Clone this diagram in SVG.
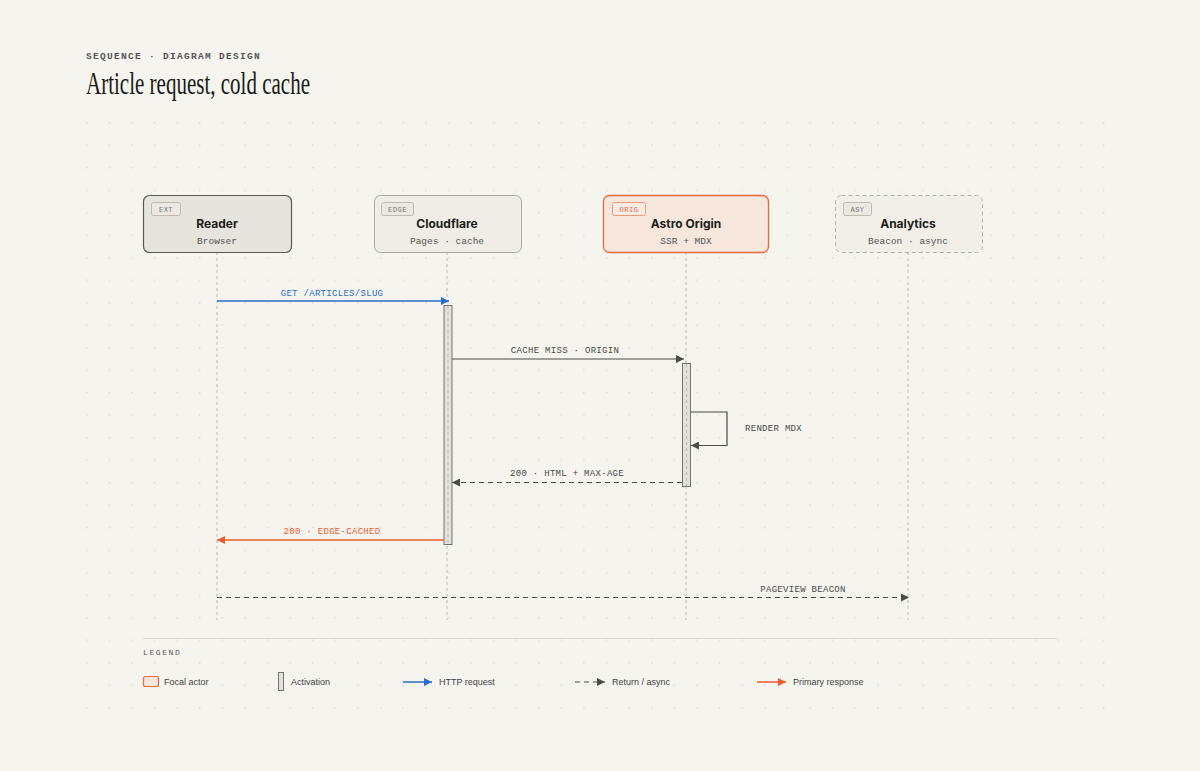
<svg xmlns="http://www.w3.org/2000/svg" width="1200" height="771" viewBox="0 0 1200 771">
<defs>
<pattern id="dots" x="86" y="122" width="22.6" height="22.5" patternUnits="userSpaceOnUse">
<circle cx="0.8" cy="0.8" r="0.8" fill="#dcd9d0"/>
</pattern>
<marker id="aBlue" viewBox="0 0 10 10" refX="10" refY="5" markerWidth="11" markerHeight="8" markerUnits="userSpaceOnUse" orient="auto"><path d="M0,0 L10,5 L0,10 Z" fill="#2a6fc9"/></marker>
<marker id="aGray" viewBox="0 0 10 10" refX="10" refY="5" markerWidth="11" markerHeight="8" markerUnits="userSpaceOnUse" orient="auto"><path d="M0,0 L10,5 L0,10 Z" fill="#4a4a46"/></marker>
<marker id="aOrange" viewBox="0 0 10 10" refX="10" refY="5" markerWidth="11" markerHeight="8" markerUnits="userSpaceOnUse" orient="auto"><path d="M0,0 L10,5 L0,10 Z" fill="#e85d2c"/></marker>
</defs>
<style>
.mono{font-family:"Liberation Mono","DejaVu Sans Mono",monospace}
.lbl{font-family:"Liberation Mono","DejaVu Sans Mono",monospace;font-size:9px;letter-spacing:0.3px;text-anchor:middle;fill:#4a4a46}
.ttl{font-family:Inter,"Liberation Sans",sans-serif;font-size:12px;font-weight:700;text-anchor:middle;fill:#1c1c1a}
.sub{font-family:"Liberation Mono","DejaVu Sans Mono",monospace;font-size:9.5px;text-anchor:middle;fill:#555}
.badge{fill:#ebe9e2;stroke:#bdbab2;stroke-width:1}
.btx{font-family:"Liberation Mono","DejaVu Sans Mono",monospace;font-size:7px;letter-spacing:0.5px;text-anchor:middle;fill:#777}
.life{stroke:#bdbab2;stroke-width:1;stroke-dasharray:3 3;fill:none}
.act{fill:#e2e0d9;stroke:#77756f;stroke-width:1}
.leg{font-family:"Liberation Sans",Arial,sans-serif;font-size:9px;fill:#444}
</style>
<rect width="1200" height="771" fill="#f5f4ee"/>
<rect x="84" y="120" width="1032" height="600" fill="url(#dots)"/>

<text x="86" y="59" class="mono" font-size="9.5" font-weight="700" letter-spacing="1.3" fill="#555">SEQUENCE · DIAGRAM DESIGN</text>
<text x="86" y="94" font-family="'Liberation Serif',serif" font-size="31" fill="#1a1a18" textLength="224" lengthAdjust="spacingAndGlyphs">Article request, cold cache</text>

<g id="lifelines">
<line class="life" x1="217" y1="252" x2="217" y2="620"/>
<line class="life" x1="447" y1="252" x2="447" y2="620"/>
<line class="life" x1="686" y1="252" x2="686" y2="620"/>
<line class="life" x1="908" y1="252" x2="908" y2="620"/>
</g>

<g id="reader">
<rect x="143.5" y="195.5" width="148" height="57" rx="6" fill="#e6e4dc" stroke="#5a5954" stroke-width="1.2"/>
<rect class="badge" x="151.5" y="202.5" width="29" height="13" rx="2"/>
<text class="btx" x="166" y="211.5">EXT</text>
<text class="ttl" x="217" y="228">Reader</text>
<text class="sub" x="217" y="244">Browser</text>
</g>

<g id="cloudflare">
<rect x="374.5" y="195.5" width="147" height="57" rx="6" fill="#efede6" stroke="#acaaa3" stroke-width="1"/>
<rect class="badge" x="381.5" y="202.5" width="32" height="13" rx="2"/>
<text class="btx" x="397.5" y="211.5">EDGE</text>
<text class="ttl" x="447" y="228">Cloudflare</text>
<text class="sub" x="447" y="244">Pages · cache</text>
</g>

<g id="astro">
<rect x="603.5" y="195.5" width="165" height="57" rx="6" fill="#f6e6dc" stroke="#e86a3c" stroke-width="1.3"/>
<rect x="612.5" y="202.5" width="33" height="13" rx="2" fill="#f8ebe3" stroke="#eb9a78" stroke-width="1"/>
<text class="btx" x="629" y="211.5" style="fill:#e06a3e">ORIG</text>
<text class="ttl" x="686" y="228">Astro Origin</text>
<text class="sub" x="686" y="244">SSR + MDX</text>
</g>

<g id="analytics">
<rect x="835.5" y="195.5" width="147" height="57" rx="6" fill="#f1efe8" stroke="#b5b3ac" stroke-width="1" stroke-dasharray="4 3"/>
<rect class="badge" x="843.5" y="202.5" width="28" height="13" rx="2"/>
<text class="btx" x="857.5" y="211.5">ASY</text>
<text class="ttl" x="908" y="228">Analytics</text>
<text class="sub" x="908" y="244">Beacon · async</text>
</g>

<g id="activations">
<rect class="act" x="444" y="305.5" width="8" height="239"/>
<line class="life" x1="448" y1="306" x2="448" y2="544"/>
<rect class="act" x="682.5" y="363.5" width="8" height="123"/>
<line class="life" x1="686.5" y1="364" x2="686.5" y2="486"/>
</g>

<g id="connectors" fill="none">
<line x1="217" y1="301" x2="449" y2="301" stroke="#2a6fc9" stroke-width="1.5" marker-end="url(#aBlue)"/>
<text class="lbl" x="332" y="296" style="fill:#2a6fc9">GET /ARTICLES/SLUG</text>

<line x1="452" y1="359" x2="684" y2="359" stroke="#4a4a46" stroke-width="1.2" marker-end="url(#aGray)"/>
<text class="lbl" x="565" y="353">CACHE MISS · ORIGIN</text>

<polyline points="690.5,412 727,412 727,445.5 691,445.5" stroke="#4a4a46" stroke-width="1.2" marker-end="url(#aGray)"/>
<text class="lbl" x="745" y="431" style="text-anchor:start">RENDER MDX</text>

<line x1="682" y1="482.5" x2="452" y2="482.5" stroke="#4a4a46" stroke-width="1.2" stroke-dasharray="5 4" marker-end="url(#aGray)"/>
<text class="lbl" x="567" y="476">200 · HTML + MAX-AGE</text>

<line x1="444" y1="540" x2="217" y2="540" stroke="#e85d2c" stroke-width="1.5" marker-end="url(#aOrange)"/>
<text class="lbl" x="332" y="534" style="fill:#e85d2c">200 · EDGE-CACHED</text>

<line x1="217" y1="597.5" x2="909" y2="597.5" stroke="#4a4a46" stroke-width="1.2" stroke-dasharray="5 4" marker-end="url(#aGray)"/>
<text class="lbl" x="803" y="592">PAGEVIEW BEACON</text>
</g>

<g id="legend">
<line x1="143" y1="638.5" x2="1057" y2="638.5" stroke="#dedbd3" stroke-width="1"/>
<text x="143" y="655" class="mono" font-size="8" letter-spacing="1.6" fill="#555">LEGEND</text>
<rect x="143.5" y="676.5" width="15" height="10" rx="2" fill="#f6e6dc" stroke="#e86a3c" stroke-width="1.2"/>
<text class="leg" x="164" y="685">Focal actor</text>
<rect x="278.5" y="672.5" width="5" height="18" fill="#e2e0d9" stroke="#77756f" stroke-width="1"/>
<text class="leg" x="291" y="685">Activation</text>
<line x1="403" y1="682" x2="432" y2="682" stroke="#2a6fc9" stroke-width="1.5" marker-end="url(#aBlue)"/>
<text class="leg" x="439" y="685">HTTP request</text>
<line x1="575" y1="682" x2="605" y2="682" stroke="#4a4a46" stroke-width="1.2" stroke-dasharray="5 4" marker-end="url(#aGray)"/>
<text class="leg" x="612" y="685">Return / async</text>
<line x1="757" y1="682" x2="786" y2="682" stroke="#e85d2c" stroke-width="1.5" marker-end="url(#aOrange)"/>
<text class="leg" x="793" y="685">Primary response</text>
</g>
</svg>
